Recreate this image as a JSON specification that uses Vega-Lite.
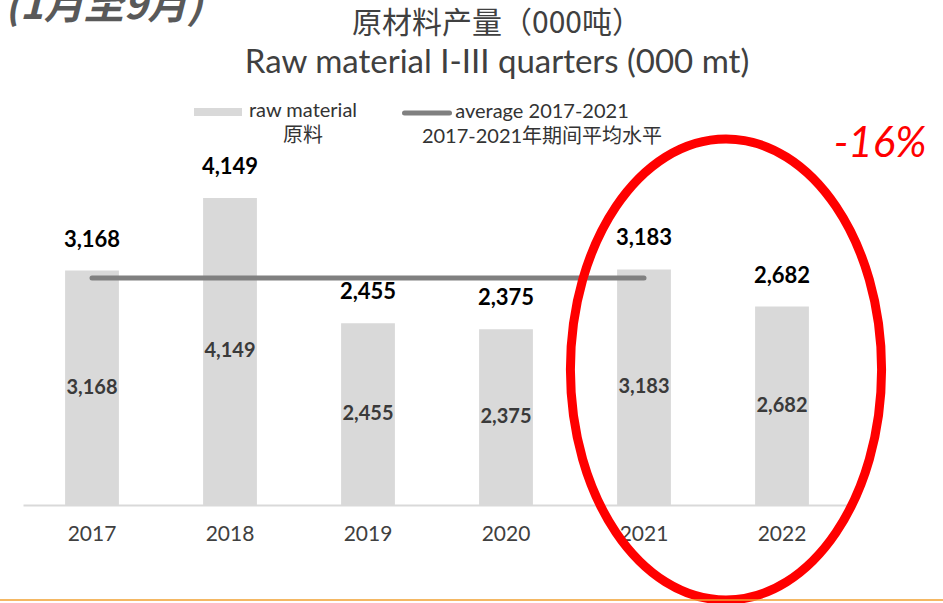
{
  "$schema": "https://vega.github.io/schema/vega-lite/v6.json",
  "width": 828,
  "height": 370,
  "autosize": "none",
  "padding": {"left": 23, "top": 135, "right": 92, "bottom": 98},
  "background": "white",
  "title": {
    "text": "原材料产量（000吨）",
    "subtitle": "Raw material I-III quarters (000 mt)",
    "anchor": "middle",
    "frame": "group",
    "dx": 60,
    "offset": -93,
    "font": "Noto Sans CJK SC",
    "fontSize": 30,
    "fontWeight": "normal",
    "color": "#404040",
    "subtitleFont": "Lato",
    "subtitleFontSize": 33,
    "subtitleColor": "#404040",
    "subtitlePadding": 8
  },
  "data": {
    "values": [
      {"year": "2017", "value": 3168},
      {"year": "2018", "value": 4149},
      {"year": "2019", "value": 2455},
      {"year": "2020", "value": 2375},
      {"year": "2021", "value": 3183},
      {"year": "2022", "value": 2682}
    ]
  },
  "resolve": {"scale": {"y": "independent"}},
  "layer": [
    {
      "mark": {"type": "bar"},
      "encoding": {
        "x": {"field": "year", "type": "nominal", "scale": {"paddingInner": 0.61, "paddingOuter": 0.305}, "axis": {"title": null, "labelAngle": 0}},
        "y": {"field": "value", "type": "quantitative", "scale": {"domain": [0, 5000], "nice": false}, "axis": null},
        "fill": {
          "datum": "raw material",
          "scale": {"range": ["#D9D9D9"]},
          "legend": {
            "title": null,
            "orient": "none",
            "legendX": 171,
            "legendY": -47,
            "padding": 0,
            "symbolType": "M-1,-0.17H1V0.17H-1Z",
            "symbolSize": 2304,
            "symbolFillColor": "#D9D9D9",
            "symbolStrokeWidth": 0,
            "labelAlign": "center",
            "labelOffset": 61,
            "labelLimit": 400,
            "labelFont": "Lato, Noto Sans CJK SC",
            "labelFontSize": 20,
            "labelColor": "#333333",
            "labelExpr": "['raw material', '原料']",
            "encode": {"labels": {"update": {"dy": {"value": -1}, "lineHeight": {"value": 25}}}}
          }
        }
      }
    },
    {
      "transform": [
        {"filter": "toNumber(datum.year) <= 2021"},
        {"aggregate": [{"op": "mean", "field": "value", "as": "avg"}]}
      ],
      "mark": {"type": "rule", "strokeWidth": 5, "strokeCap": "round"},
      "encoding": {
        "x": {"datum": "2017", "type": "nominal"},
        "x2": {"datum": "2021"},
        "y": {"field": "avg", "type": "quantitative", "scale": {"domain": [0, 5000], "nice": false}, "axis": null},
        "stroke": {
          "datum": "average 2017-2021",
          "scale": {"range": ["#808080"]},
          "legend": {
            "title": null,
            "orient": "none",
            "legendX": 379,
            "legendY": -47,
            "padding": 0,
            "symbolType": "stroke",
            "symbolSize": 2025,
            "symbolStrokeWidth": 5,
            "symbolStrokeColor": "#808080",
            "labelAlign": "center",
            "labelOffset": 90,
            "labelLimit": 400,
            "labelFont": "Lato, Noto Sans CJK SC",
            "labelFontSize": 20,
            "labelColor": "#333333",
            "labelExpr": "['average 2017-2021', '2017-2021年期间平均水平']",
            "encode": {
              "labels": {"update": {"dy": {"value": -1}, "lineHeight": {"value": 25}}},
              "symbols": {"update": {"strokeCap": {"value": "round"}}}
            }
          }
        }
      }
    },
    {
      "mark": {"type": "text", "font": "Lato", "fontSize": 22, "fontWeight": "bold", "color": "#000000", "baseline": "alphabetic", "dy": -24},
      "encoding": {
        "x": {"field": "year", "type": "nominal"},
        "y": {"field": "value", "type": "quantitative", "scale": {"domain": [0, 5000], "nice": false}, "axis": null},
        "text": {"field": "value", "type": "quantitative", "format": ",d"}
      }
    },
    {
      "mark": {"type": "text", "font": "Lato", "fontSize": 20, "fontWeight": "bold", "color": "#3A3A3A", "baseline": "middle"},
      "encoding": {
        "x": {"field": "year", "type": "nominal"},
        "y": {"field": "value", "type": "quantitative", "scale": {"domain": [0, 10000], "nice": false}, "axis": null},
        "text": {"field": "value", "type": "quantitative", "format": ",d"}
      }
    },
    {
      "data": {"values": [{"note": "highlight"}]},
      "mark": {"type": "point", "shape": "M-0.675,0A0.675,1,0,1,0,0.675,0A0.675,1,0,1,0,-0.675,0Z", "size": 212521, "filled": false, "stroke": "#FF0000", "strokeWidth": 9, "opacity": 1, "xOffset": -56},
      "encoding": {
        "x": {"datum": "2022", "type": "nominal"},
        "y": {"datum": 1831, "type": "quantitative", "scale": {"domain": [0, 5000], "nice": false}, "axis": null}
      }
    },
    {
      "data": {"values": [{"label": "-16%"}]},
      "mark": {"type": "text", "font": "Lato", "fontSize": 42, "fontStyle": "italic", "color": "#FF0000", "align": "center", "baseline": "alphabetic", "dx": 98},
      "encoding": {
        "x": {"datum": "2022", "type": "nominal"},
        "y": {"datum": 4703, "type": "quantitative", "scale": {"domain": [0, 5000], "nice": false}, "axis": null},
        "text": {"field": "label", "type": "nominal"}
      }
    },
    {
      "data": {"values": [{"label": "(1月至9月)"}]},
      "mark": {"type": "text", "font": "Noto Sans CJK SC", "fontSize": 40, "fontStyle": "italic", "fontWeight": "bold", "color": "#595959", "align": "left", "baseline": "alphabetic", "dx": -87},
      "encoding": {
        "x": {"datum": "2017", "type": "nominal"},
        "y": {"datum": 6565, "type": "quantitative", "scale": {"domain": [0, 5000], "nice": false}, "axis": null},
        "text": {"field": "label", "type": "nominal"}
      }
    },
    {
      "data": {"values": [{"note": "footer"}]},
      "mark": {"type": "rule", "stroke": "#F0A030", "strokeWidth": 1.5, "xOffset": -200, "x2Offset": 200},
      "encoding": {
        "x": {"datum": "2017", "type": "nominal"},
        "x2": {"datum": "2022"},
        "y": {"datum": -1284, "type": "quantitative", "scale": {"domain": [0, 5000], "nice": false}, "axis": null}
      }
    }
  ],
  "config": {
    "view": {"stroke": null},
    "axis": {
      "ticks": false,
      "domainColor": "#D9D9D9",
      "domainWidth": 2,
      "labelFont": "Lato",
      "labelFontSize": 21,
      "labelColor": "#404040",
      "labelPadding": 18,
      "grid": false
    }
  }
}
